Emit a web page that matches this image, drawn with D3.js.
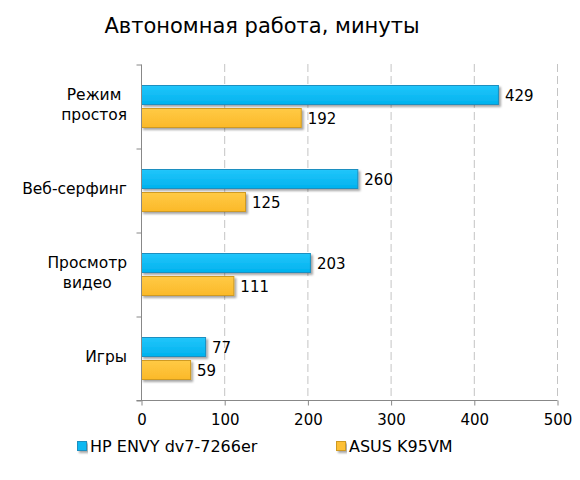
<!DOCTYPE html>
<html>
<head>
<meta charset="utf-8">
<script src="https://cdn.jsdelivr.net/npm/d3@7"></script>
<style>
  body { margin: 0; background: #fff; }
  svg { font-family: "DejaVu Sans", Verdana, sans-serif; }
</style>
</head>
<body>
<svg id="chart" width="580" height="480"></svg>
<script>
// data
var categories = [["Режим", "простоя"], ["Веб-серфинг"], ["Просмотр", "видео"], ["Игры"]];
var seriesNames = ["HP ENVY dv7-7266er", "ASUS K95VM"];
var hpValues = [429, 260, 203, 77];
var asusValues = [192, 125, 111, 59];
var xTicks = [0, 100, 200, 300, 400, 500];

var svg = d3.select("#chart");
var margin = { top: 64, left: 141, right: 23, bottom: 80 };
var w = 580 - margin.left - margin.right,
  h = 480 - margin.top - margin.bottom;

var defs = svg.append("defs");
var shadow = defs.append("filter").attr("id", "shadow").attr("x", "-5%").attr("y", "-20%").attr("width", "115%").attr("height", "160%");
shadow.append("feDropShadow").attr("dx", 2).attr("dy", 2).attr("stdDeviation", 1).attr("flood-color", "#000").attr("flood-opacity", 0.35);

function grad(id, top, bottom) {
  var g = defs.append("linearGradient").attr("id", id).attr("x1", 0).attr("y1", 0).attr("x2", 0).attr("y2", 1);
  g.append("stop").attr("offset", "0%").attr("stop-color", top);
  g.append("stop").attr("offset", "100%").attr("stop-color", bottom);
}
grad("gBlue", "#22c6fb", "#00b2ee");
grad("gOrange", "#ffca45", "#fbb929");

var colors = [
  { fill: "url(#gBlue)", stroke: "#1a8fc0", swatch: "#0cb8f2" },
  { fill: "url(#gOrange)", stroke: "#cf9a22", swatch: "#fdc035" }
];

svg.append("text")
  .attr("x", 262)
  .attr("y", 33)
  .attr("text-anchor", "middle")
  .style("font-size", "21px")
  .style("fill", "#000")
  .text("Автономная работа, минуты");

var g = svg.append("g").attr("transform", `translate(${margin.left}, ${margin.top})`);

var x_scale = d3.scaleLinear().domain([0, 500]).range([0, w]);
var y_scale = d3.scaleBand().domain(d3.range(categories.length)).range([0, h]);

// gridlines
g.selectAll(".grid")
  .data(xTicks.slice(1))
  .join("line")
  .attr("class", "grid")
  .attr("x1", (d) => x_scale(d) + 0.5)
  .attr("x2", (d) => x_scale(d) + 0.5)
  .attr("y1", 0)
  .attr("y2", h)
  .style("stroke", "#c4c4c4")
  .style("stroke-dasharray", "8,4");

// bars
var rows = categories.map((c, i) => ({ i: i, vals: [hpValues[i], asusValues[i]] }));
var barH = 19, gap = 4;
var cat = g.selectAll(".cat")
  .data(rows)
  .join("g")
  .attr("class", "cat")
  .attr("transform", (d) => `translate(0, ${y_scale(d.i) + y_scale.bandwidth() / 2 - barH - gap / 2})`);

cat.selectAll("rect")
  .data((d) => d.vals)
  .join("rect")
  .attr("x", 0.5)
  .attr("y", (d, j) => j * (barH + gap) + 0.5)
  .attr("width", (d) => x_scale(d))
  .attr("height", barH)
  .attr("fill", (d, j) => colors[j].fill)
  .attr("stroke", (d, j) => colors[j].stroke)
  .attr("stroke-width", 1)
  .attr("filter", "url(#shadow)");

cat.selectAll(".val")
  .data((d) => d.vals)
  .join("text")
  .attr("class", "val")
  .attr("x", (d) => x_scale(d) + 7)
  .attr("y", (d, j) => j * (barH + gap) + barH / 2 + 6)
  .style("font-size", "15px")
  .style("fill", "#000")
  .text((d) => d);

// category labels: lines centred among themselves, block right-aligned
var labelRight = 127 - margin.left;
var labels = g.selectAll(".clabel")
  .data(categories)
  .join("text")
  .attr("class", "clabel")
  .attr("text-anchor", "middle")
  .style("font-size", "15.5px")
  .style("fill", "#000");
labels.selectAll("tspan")
  .data((d) => d)
  .join("tspan")
  .attr("x", 0)
  .attr("dy", (d, k) => (k === 0 ? 0 : 20))
  .text((d) => d);
labels.attr("transform", function (d, i) {
  var maxW = d3.max(d3.select(this).selectAll("tspan").nodes(), (n) => n.getComputedTextLength());
  return `translate(${labelRight - maxW / 2}, ${y_scale(i) + y_scale.bandwidth() / 2 + 4 - (d.length - 1) * 10})`;
});

// axes
var xAxis = g.append("g")
  .attr("transform", `translate(0.5, ${h + 0.5})`)
  .call(d3.axisBottom(x_scale).tickValues(xTicks).tickSizeInner(5).tickSizeOuter(0).tickPadding(9));
xAxis.select(".domain").attr("d", `M-5,0H${w}`);
xAxis.selectAll("text").style("font-size", "15px").style("font-family", "DejaVu Sans, Verdana, sans-serif").style("fill", "#000");

var yAxis = g.append("g")
  .attr("transform", "translate(0.5, 0.5)")
  .call(d3.axisLeft(d3.scaleLinear().domain([0, 4]).range([0, h])).ticks(4).tickSize(5).tickFormat(""));
yAxis.select(".domain").attr("d", `M0,0V${h}`);

g.selectAll(".domain, .tick line").style("stroke", "#888");

// legend
var legend = svg.append("g").attr("transform", "translate(77, 441)");
var items = legend.selectAll(".item")
  .data(seriesNames)
  .join("g")
  .attr("class", "item")
  .attr("transform", (d, i) => `translate(${i * 259}, 0)`);
items.append("rect")
  .attr("x", 0.5)
  .attr("y", 0.5)
  .attr("width", 9)
  .attr("height", 9)
  .attr("fill", (d, i) => colors[i].swatch)
  .attr("stroke", (d, i) => colors[i].stroke)
  .attr("filter", "url(#shadow)");
items.append("text")
  .attr("x", 13)
  .attr("y", 11)
  .style("font-size", "16px")
  .style("fill", "#000")
  .text((d) => d);
</script>
</body>
</html>
